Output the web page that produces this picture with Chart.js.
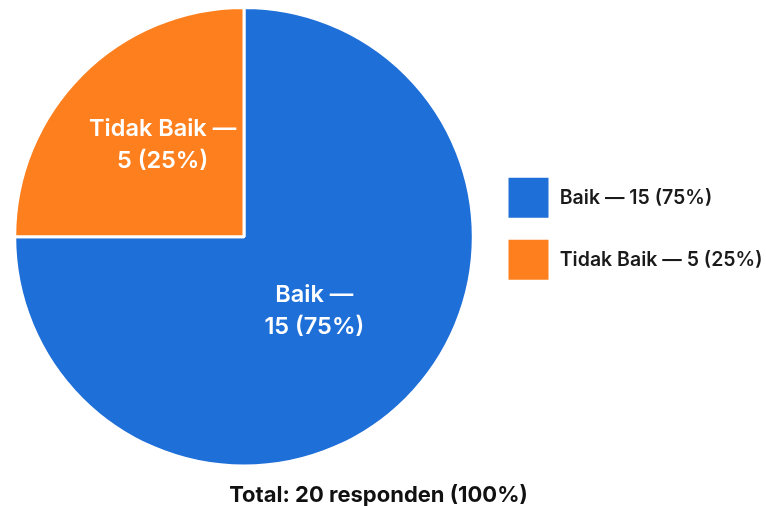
<!DOCTYPE html>
<html>
<head>
<meta charset="utf-8">
<script src="https://cdn.jsdelivr.net/npm/chart.js@4.4.1/dist/chart.umd.min.js"></script>
<style>
  html, body { margin: 0; padding: 0; background: #ffffff; }
  #wrap { width: 766px; height: 506px; position: relative; }
</style>
</head>
<body>
<div id="wrap"><canvas id="c"></canvas></div>
<script>
const categories = ["Baik", "Tidak Baik"];
const counts = [15, 5];
const percents = [75, 25];
const totalLabel = "Total: 20 responden (100%)";
const colors = ["#1F6FD8", "#FD7F1D"];

const legendLabels = categories.map((c, i) => `${c} — ${counts[i]} (${percents[i]}%)`);
const sliceLines = [
  [`${categories[0]} —`, `${counts[0]} (${percents[0]}%)`],
  [`${categories[1]} —`, `${counts[1]} (${percents[1]}%)`]
];

const sliceLabelPlugin = {
  id: 'sliceLabels',
  afterDatasetsDraw(chart, args, opts) {
    const ctx = chart.ctx;
    const meta = chart.getDatasetMeta(0);
    ctx.save();
    ctx.fillStyle = '#ffffff';
    ctx.font = '600 23.5px Inter, "Noto Sans", sans-serif';
    ctx.textAlign = 'center';
    ctx.textBaseline = 'middle';
    meta.data.forEach((arc, i) => {
      const p = arc.getProps(['x', 'y', 'startAngle', 'endAngle', 'outerRadius'], true);
      const mid = (p.startAngle + p.endAngle) / 2 + opts.angleShift[i];
      const r = p.outerRadius * opts.radius[i];
      const cx = p.x + Math.cos(mid) * r;
      const cy = p.y + Math.sin(mid) * r;
      const lines = sliceLines[i];
      const lh = 32;
      lines.forEach((ln, k) => {
        ctx.fillText(ln, cx, cy + (k - (lines.length - 1) / 2) * lh);
      });
    });
    ctx.restore();
  }
};

new Chart(document.getElementById('c'), {
  type: 'pie',
  data: {
    labels: legendLabels,
    datasets: [{
      data: counts,
      backgroundColor: colors,
      borderColor: '#ffffff',
      borderWidth: 3
    }]
  },
  options: {
    responsive: true,
    maintainAspectRatio: false,
    animation: false,
    layout: { padding: { top: 6, left: -9, right: 0, bottom: -3 } },
    plugins: {
      sliceLabels: { radius: [0.445, 0.535], angleShift: [0.025, 0.06] },
      legend: {
        position: 'right',
        align: 'start',
        maxWidth: 278,
        title: {
          display: true,
          text: ' ',
          font: { size: 1 },
          padding: { top: 150, bottom: 0 }
        },
        labels: {
          boxWidth: 43,
          boxHeight: 43,
          padding: 19,
          color: '#1a1a1a',
          font: { family: 'Inter, "Noto Sans", sans-serif', size: 19.5, weight: '600' }
        }
      },
      title: {
        display: true,
        position: 'bottom',
        text: totalLabel,
        color: '#111111',
        font: { family: 'Inter, "Noto Sans", sans-serif', size: 22, weight: 'bold' },
        padding: { top: 15, bottom: 0 }
      },
      tooltip: { enabled: false }
    }
  },
  plugins: [sliceLabelPlugin]
});
</script>
</body>
</html>
